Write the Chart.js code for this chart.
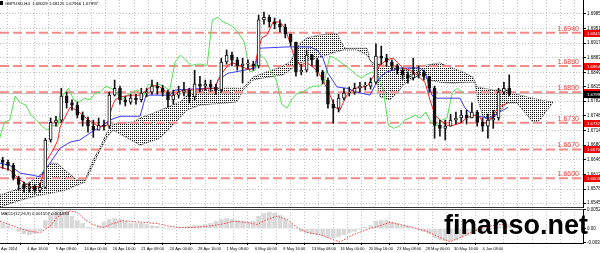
<!DOCTYPE html>
<html>
<head>
<meta charset="utf-8">
<script src="https://cdn.jsdelivr.net/npm/chart.js@4.4.1/dist/chart.umd.min.js"></script>
<style>
  html, body { margin: 0; padding: 0; background: #fff; }
  #wrap { position: relative; width: 600px; height: 253px; overflow: hidden; background: #fff; }
  #main { position: absolute; left: 0; top: 0; }
  #macd { position: absolute; left: 0; top: 200px; }
  #brand { position: absolute; left: 444px; top: 212px; font: bold 27px/27px "Liberation Sans", Arial, sans-serif; color: #000; white-space: nowrap; }
</style>
</head>
<body>
<div id="wrap">
  <canvas id="main" width="640" height="208"></canvas>
  <canvas id="macd" width="640" height="53"></canvas>
  <div id="brand">finanso.net</div>
</div>
<script>
// GBPUSD H4, one candle per 3 H4 bars (x axis counts H4 bars)
const closes = [1.6640,1.6633,1.6603,1.6589,1.6580,1.6585,1.6575,1.6582,1.6692,1.6733,
  1.6738,1.6794,1.6778,1.6773,1.6750,1.6738,1.6724,1.6715,1.6726,1.6724,
  1.6796,1.6812,1.6785,1.6780,1.6789,1.6785,1.6801,1.6803,1.6817,1.6812,
  1.6803,1.6785,1.6796,1.6803,1.6808,1.6792,1.6822,1.6817,1.6822,1.6815,
  1.6808,1.6873,1.6889,1.6878,1.6864,1.6868,1.6868,1.6864,1.6971,1.6977,
  1.6966,1.6961,1.6954,1.6938,1.6919,1.6850,1.6854,1.6889,1.6878,1.6850,
  1.6831,1.6775,1.6766,1.6789,1.6801,1.6803,1.6812,1.6817,1.6817,1.6826,
  1.6887,1.6882,1.6873,1.6864,1.6854,1.6843,1.6836,1.6845,1.6850,1.6840,
  1.6812,1.6726,1.6719,1.6724,1.6738,1.6743,1.6750,1.6743,1.6757,1.6733,
  1.6724,1.6738,1.6743,1.6803,1.6812,1.67997];
const highs = [1.6652,1.6645,1.6638,1.6608,1.6594,1.6592,1.6589,1.6592,1.6696,1.6743,
  1.6747,1.6812,1.6803,1.6785,1.6780,1.6757,1.6745,1.6738,1.6743,1.6738,
  1.6803,1.6831,1.6817,1.6794,1.6798,1.6798,1.6812,1.6812,1.6831,1.6826,
  1.6819,1.6808,1.6808,1.6817,1.6826,1.6812,1.6854,1.6840,1.6831,1.6831,
  1.6822,1.6882,1.6901,1.6896,1.6884,1.6882,1.6878,1.6875,1.6982,1.6989,
  1.6982,1.6975,1.6971,1.6961,1.6938,1.6919,1.6868,1.6901,1.6891,1.6882,
  1.6854,1.6836,1.6785,1.6798,1.6812,1.6815,1.6824,1.6826,1.6826,1.6836,
  1.6915,1.6910,1.6891,1.6878,1.6868,1.6859,1.6850,1.6882,1.6864,1.6854,
  1.6840,1.6817,1.6738,1.6738,1.6752,1.6757,1.6761,1.6761,1.6778,1.6761,
  1.6743,1.6752,1.6761,1.6812,1.6826,1.6843];
const lows = [1.6626,1.6622,1.6599,1.6575,1.6571,1.6571,1.6568,1.6571,1.6580,1.6687,
  1.6724,1.6733,1.6766,1.6761,1.6743,1.6724,1.6710,1.6698,1.6715,1.6715,
  1.6719,1.6794,1.6775,1.6771,1.6775,1.6775,1.6780,1.6792,1.6798,1.6798,
  1.6794,1.6768,1.6775,1.6789,1.6794,1.6778,1.6785,1.6803,1.6808,1.6805,
  1.6798,1.6803,1.6868,1.6864,1.6854,1.6824,1.6857,1.6854,1.6859,1.6961,
  1.6954,1.6950,1.6943,1.6929,1.6910,1.6840,1.6843,1.6850,1.6864,1.6840,
  1.6822,1.6766,1.6731,1.6757,1.6785,1.6794,1.6798,1.6803,1.6808,1.6810,
  1.6822,1.6868,1.6864,1.6854,1.6845,1.6833,1.6824,1.6831,1.6836,1.6831,
  1.6803,1.6696,1.6701,1.6692,1.6724,1.6729,1.6733,1.6729,1.6743,1.6724,
  1.6712,1.6696,1.6719,1.6738,1.6798,1.6794];
const firstOpen = 1.6645;
const barsPerCandle = 3;
const chikouShift = 26;

// ichimoku lines, [bar, price]
const tenkan = [[0,1.6629],[5.6,1.6622],[11.3,1.6599],[18.6,1.6580],[22.5,1.6585],[26.4,1.6645],[29.8,1.6668],[32.6,1.6692],[33.8,1.6722],[39.4,1.6768],[43.3,1.6761],[47.8,1.6745],[52.3,1.6731],[56.3,1.6722],[60.2,1.6726],[63.0,1.6768],[64.7,1.6785],[67.5,1.6792],[74.8,1.6796],[78.8,1.6796],[82.7,1.6808],[86.1,1.6819],[90.0,1.6815],[94.0,1.6803],[96.8,1.6792],[99.6,1.6801],[103.0,1.6808],[110.8,1.6808],[116.5,1.6812],[121.0,1.6812],[122.6,1.6831],[125.5,1.6850],[128.3,1.6866],[131.1,1.6871],[133.9,1.6866],[136.7,1.6861],[140.7,1.6854],[143.5,1.6866],[145.2,1.6901],[147.4,1.6929],[150.2,1.6936],[153.6,1.6966],[157.5,1.6966],[160.3,1.6952],[163.2,1.6917],[166.0,1.6878],[168.8,1.6866],[172.7,1.6871],[176.1,1.6861],[178.9,1.6850],[181.7,1.6831],[185.7,1.6796],[188.5,1.6768],[191.3,1.6761],[193.0,1.6778],[195.8,1.6801],[199.7,1.6812],[204.2,1.6815],[207.0,1.6819],[209.8,1.6838],[213.8,1.6866],[217.7,1.6878],[221.1,1.6882],[223.9,1.6871],[226.7,1.6859],[230.7,1.6854],[234.6,1.6843],[239.1,1.6826],[241.9,1.6785],[244.7,1.6750],[247.5,1.6738],[251.5,1.6726],[254.9,1.6726],[258.8,1.6731],[262.7,1.6743],[266.1,1.6750],[270.0,1.6745],[271.7,1.6731],[274.5,1.6733],[277.4,1.6750],[280.2,1.6766],[283.0,1.6773],[285.8,1.6778]];
const kijun = [[0,1.6638],[5.6,1.6633],[11.3,1.6615],[18.6,1.6610],[22.5,1.6606],[28.1,1.6638],[33.8,1.6673],[39.4,1.6687],[45.0,1.6692],[50.6,1.6708],[56.3,1.6722],[61.9,1.6738],[67.5,1.6747],[78.8,1.6747],[82.1,1.6796],[95.6,1.6796],[98.5,1.6808],[116.5,1.6812],[121.0,1.6812],[122.6,1.6831],[128.3,1.6847],[135.0,1.6852],[143.5,1.6859],[145.7,1.6905],[161.5,1.6908],[174.4,1.6908],[178.3,1.6901],[181.7,1.6882],[184.5,1.6847],[189.6,1.6815],[195.2,1.6812],[200.9,1.6803],[208.2,1.6796],[211.0,1.6819],[213.8,1.6838],[217.7,1.6850],[225.0,1.6859],[236.3,1.6859],[239.1,1.6850],[243.0,1.6796],[245.9,1.6789],[258.8,1.6789],[261.6,1.6766],[266.1,1.6750],[274.0,1.6743],[276.8,1.6743],[279.6,1.6754],[283.0,1.6761],[285.8,1.6768]];
const cloudTop = [[0,1.6564],[11.3,1.6580],[22.5,1.6610],[28.1,1.6638],[32.1,1.6638],[36.6,1.6622],[43.3,1.6599],[47.8,1.6599],[52.3,1.6645],[56.3,1.6675],[60.2,1.6710],[63.6,1.6729],[74.8,1.6733],[78.8,1.6743],[86.1,1.6754],[94.0,1.6768],[101.3,1.6780],[105.2,1.6796],[112.5,1.6808],[121.0,1.6812],[136.7,1.6812],[142.3,1.6838],[148.0,1.6847],[157.5,1.6861],[163.2,1.6873],[168.8,1.6917],[172.7,1.6929],[180.0,1.6936],[189.6,1.6940],[191.3,1.6924],[194.1,1.6905],[206.5,1.6905],[208.2,1.6878],[209.8,1.6871],[221.1,1.6861],[225.0,1.6854],[230.7,1.6859],[240.2,1.6866],[247.5,1.6871],[253.2,1.6861],[260.5,1.6850],[266.1,1.6838],[268.4,1.6815],[277.4,1.6808],[285.2,1.6808],[292.6,1.6796],[303.8,1.6785],[311.1,1.6780]];
const cloudBottom = [[0,1.6536],[11.3,1.6552],[22.5,1.6564],[28.1,1.6568],[36.6,1.6575],[43.3,1.6587],[47.8,1.6594],[52.3,1.6633],[56.3,1.6668],[60.2,1.6698],[63.6,1.6715],[78.8,1.6680],[90.0,1.6696],[105.2,1.6761],[112.5,1.6773],[133.3,1.6780],[136.7,1.6808],[142.3,1.6831],[148.0,1.6836],[159.2,1.6843],[168.8,1.6871],[174.4,1.6878],[180.0,1.6884],[187.3,1.6894],[193.0,1.6901],[200.9,1.6901],[206.5,1.6889],[209.8,1.6866],[213.8,1.6792],[219.4,1.6785],[223.9,1.6803],[226.7,1.6819],[230.7,1.6831],[236.3,1.6843],[241.9,1.6831],[247.5,1.6826],[254.9,1.6824],[262.7,1.6826],[267.2,1.6826],[268.9,1.6785],[271.7,1.6745],[275.7,1.6738],[279.6,1.6750],[285.2,1.6778],[290.9,1.6778],[294.2,1.6761],[299.9,1.6733],[303.8,1.6738],[307.7,1.6761],[311.1,1.6778]];

const levels = [1.6941, 1.6864, 1.6803, 1.6732, 1.6670, 1.6603];
const levelTexts = ['1.6940', '1.6860', '1.6800', '1.6730', '1.6670', '1.6600'];
const levelAxisTexts = ['1.69410', '1.68640', '1.68030', '1.67320', '1.66700', '1.66030'];
const bidPrice = 1.67997;
const priceTicks = [1.69850, 1.69510, 1.69170, 1.68830, 1.68490, 1.68150, 1.67820, 1.67480, 1.67140, 1.66800, 1.66460, 1.66120, 1.65780, 1.65450];

const macdHist = [0.0014,0.0008,0.0000,-0.0008,-0.0014,-0.0017,-0.0014,-0.0006,0.0022,0.0042,
  0.0048,0.0051,0.0045,0.0034,0.0022,0.0014,0.0003,0.0000,0.0006,0.0017,
  0.0025,0.0028,0.0025,0.0020,0.0014,0.0014,0.0014,0.0011,0.0008,0.0006,
  0.0003,0.0000,0.0000,0.0003,0.0003,0.0006,0.0008,0.0008,0.0011,0.0014,
  0.0020,0.0025,0.0028,0.0025,0.0022,0.0020,0.0017,0.0020,0.0034,0.0042,
  0.0045,0.0042,0.0037,0.0025,0.0014,0.0000,-0.0008,-0.0011,-0.0014,-0.0017,
  -0.0020,-0.0025,-0.0025,-0.0022,-0.0017,-0.0011,-0.0008,-0.0003,0.0003,0.0008,
  0.0020,0.0022,0.0022,0.0017,0.0014,0.0008,0.0006,0.0000,-0.0003,-0.0008,
  -0.0014,-0.0025,-0.0031,-0.0034,-0.0034,-0.0031,-0.0025,-0.0020,-0.0014,-0.0008,
  -0.0006,-0.0003,0.0000,0.0006,0.0008,0.0011];
const macdSignal = [[0,0.0020],[5.6,0.0011],[11.3,0.0000],[16.9,-0.0008],[22.5,-0.0011],[28.1,0.0006],[32.1,0.0031],[36.6,0.0045],[39.4,0.0048],[43.3,0.0045],[47.8,0.0025],[52.3,0.0011],[58.0,0.0003],[63.6,0.0014],[69.2,0.0022],[73.1,0.0020],[80.5,0.0017],[88.3,0.0014],[95.6,0.0006],[101.3,0.0003],[108.6,0.0003],[116.5,0.0006],[123.8,0.0011],[131.1,0.0020],[139.0,0.0017],[144.6,0.0011],[150.2,0.0025],[155.8,0.0034],[161.5,0.0025],[167.1,0.0003],[172.7,-0.0011],[180.0,-0.0017],[187.4,-0.0031],[191.3,-0.0037],[198.6,-0.0017],[206.5,-0.0003],[213.8,0.0008],[219.4,0.0017],[225.0,0.0011],[232.4,0.0003],[240.2,-0.0008],[247.6,-0.0025],[253.2,-0.0037],[258.8,-0.0025],[266.1,-0.0008],[274.0,0.0006],[281.3,0.0011],[285.2,0.0011]];
const macdTicks = [0.005213, 0, -0.00391];
const macdTickLabels = ['0.005213', '0.00', '-0.003910'];

const xLabels = ['Apr 2014', '4 Apr 16:00', '9 Apr 08:00', '14 Apr 00:00', '16 Apr 16:00', '21 Apr 08:00',
  '24 Apr 00:00', '28 Apr 16:00', '1 May 08:00', '6 May 00:00', '8 May 16:00', '13 May 08:00',
  '16 May 00:00', '20 May 16:00', '23 May 08:00', '28 May 00:00', '30 May 16:00', '4 Jun 08:00'];
const firstLabelBar = 0.6;
const gridStart = 7.4;
const gridStep = 8;
const xMax = 328;

const FONT = '"Liberation Sans", Arial, sans-serif';
const gridColor = '#c4c4c4';

// candle positions and opens
const candleX = closes.map((c, i) => 1.5 + barsPerCandle * i);
const opens = closes.map((c, i) => i === 0 ? firstOpen : closes[i - 1]);
const pts = arr => arr.map(p => ({x: p[0], y: p[1]}));

// vertical grid / time ticks
const xTickVals = [firstLabelBar];
for (let b = gridStart; b < xMax; b += gridStep) xTickVals.push(b);
function xTickLabel(v) {
  if (Math.abs(v - firstLabelBar) < 0.01) return xLabels[0];
  const idx = Math.round((v - gridStart) / gridStep);
  if (idx % 2 === 1) return xLabels[(idx + 1) / 2] || '';
  return '';
}

function dotPattern(ctx) {
  const c = document.createElement('canvas');
  c.width = 2; c.height = 2;
  const g = c.getContext('2d');
  g.fillStyle = '#111';
  g.fillRect(0, 0, 1, 1);
  return ctx.createPattern(c, 'repeat');
}

const mainCanvas = document.getElementById('main');
const cloudFill = dotPattern(mainCanvas.getContext('2d'));

const mainDecor = {
  id: 'mainDecor',
  afterDraw(chart) {
    const {ctx, chartArea, scales: {y}} = chart;
    ctx.save();
    // title line
    ctx.fillStyle = '#000';
    ctx.fillRect(0, 1, 3, 4);
    ctx.font = '4.3px ' + FONT;
    ctx.textBaseline = 'middle';
    ctx.textAlign = 'left';
    ctx.fillText('GBPUSD,H4  1.68029 1.68125 1.67966 1.67997', 5, 3.5);
    // level captions and axis tags
    levels.forEach((lv, i) => {
      const py = Math.round(y.getPixelForValue(lv));
      ctx.font = '7px ' + FONT;
      ctx.fillStyle = '#f04040';
      ctx.textAlign = 'right';
      ctx.textBaseline = 'alphabetic';
      ctx.fillText(levelTexts[i], 579, py - 2);
      ctx.fillStyle = '#f00000';
      ctx.fillRect(chartArea.right + 1, py - 3, 52, 7);
      ctx.fillStyle = '#fff';
      ctx.font = '4.3px ' + FONT;
      ctx.textAlign = 'left';
      ctx.textBaseline = 'middle';
      ctx.fillText(levelAxisTexts[i], chartArea.right + 4, py + 0.5);
    });
    const by = Math.round(y.getPixelForValue(bidPrice));
    ctx.fillStyle = '#000';
    ctx.fillRect(chartArea.right + 1, by - 3, 52, 7);
    ctx.fillStyle = '#fff';
    ctx.fillText(bidPrice.toFixed(5), chartArea.right + 4, by + 0.5);
    ctx.restore();
  }
};

const levelSets = levels.map(lv => ({
  type: 'line',
  data: [{x: 0, y: lv}, {x: xMax, y: lv}],
  borderColor: '#f58a8a',
  borderWidth: 2,
  borderDash: [9, 4],
  pointRadius: 0,
  order: 8
}));

new Chart(mainCanvas, {
  type: 'line',
  data: {
    datasets: [
      {
        data: pts(cloudTop),
        borderColor: '#444',
        borderWidth: 1,
        borderDash: [1, 1],
        backgroundColor: cloudFill,
        fill: '+1',
        pointRadius: 0,
        order: 10
      },
      {
        data: pts(cloudBottom),
        borderColor: '#444',
        borderWidth: 1,
        borderDash: [1, 1],
        fill: false,
        pointRadius: 0,
        order: 10
      },
      ...levelSets,
      {
        data: [{x: 0, y: bidPrice}, {x: xMax, y: bidPrice}],
        borderColor: '#c8c8c8',
        borderWidth: 1,
        pointRadius: 0,
        order: 9
      },
      {
        data: closes.map((c, i) => ({x: candleX[i] - chikouShift, y: c})),
        borderColor: '#52e052',
        borderWidth: 1,
        pointRadius: 0,
        order: 5
      },
      {
        data: pts(kijun),
        borderColor: '#3b3bff',
        borderWidth: 1,
        pointRadius: 0,
        order: 4
      },
      {
        data: pts(tenkan),
        borderColor: '#ff2020',
        borderWidth: 1,
        pointRadius: 0,
        order: 3
      },
      {
        type: 'bar',
        data: candleX.map((x, i) => ({x: x, y: [lows[i], highs[i]]})),
        backgroundColor: '#111',
        barThickness: 1,
        grouped: false,
        order: 2
      },
      {
        type: 'bar',
        data: candleX.map((x, i) => ({x: x, y: [opens[i], closes[i]]})),
        backgroundColor: closes.map((c, i) => c >= opens[i] ? '#fff' : '#111'),
        borderColor: '#111',
        borderWidth: 1,
        borderSkipped: false,
        barThickness: 3,
        grouped: false,
        minBarLength: 1,
        order: 1
      }
    ]
  },
  options: {
    responsive: false,
    animation: false,
    devicePixelRatio: 1,
    layout: {padding: 0},
    plugins: {legend: {display: false}, tooltip: {enabled: false}},
    scales: {
      x: {
        type: 'linear',
        min: 0,
        max: xMax,
        offset: false,
        afterBuildTicks: s => { s.ticks = xTickVals.map(v => ({value: v})); },
        afterFit: s => { s.height = 0; s.paddingLeft = 0; s.paddingRight = 0; },
        ticks: {display: false},
        grid: {
          color: c => (c.tick && c.tick.value < 1) ? 'rgba(0,0,0,0)' : gridColor,
          drawTicks: false
        },
        border: {display: true, color: '#333', width: 2, dash: [1, 2]}
      },
      y: {
        type: 'linear',
        position: 'right',
        min: 1.6534,
        max: 1.7017,
        afterBuildTicks: s => { s.ticks = priceTicks.map(v => ({value: v})); },
        afterFit: s => { s.width = 57; s.paddingTop = 0; s.paddingBottom = 0; },
        ticks: {
          color: '#000',
          font: {size: 4.5, family: FONT},
          padding: 1,
          callback: v => v.toFixed(5)
        },
        grid: {color: gridColor, tickColor: '#000', tickLength: 3},
        border: {display: true, color: '#000', width: 1, dash: [1, 2]}
      }
    }
  },
  plugins: [mainDecor]
});

const macdDecor = {
  id: 'macdDecor',
  afterDraw(chart) {
    const {ctx, chartArea} = chart;
    ctx.save();
    ctx.strokeStyle = '#555';
    ctx.lineWidth = 1;
    ctx.beginPath();
    ctx.moveTo(0, chartArea.top + 0.5);
    ctx.lineTo(chartArea.right, chartArea.top + 0.5);
    ctx.stroke();
    ctx.fillStyle = '#000';
    ctx.font = '4.3px ' + FONT;
    ctx.textBaseline = 'middle';
    ctx.fillText('MACD(12,26,9) 0.001557 0.001033', 1, chartArea.top + 4.5);
    ctx.restore();
  }
};

new Chart(document.getElementById('macd'), {
  type: 'line',
  data: {
    datasets: [
      {
        data: pts(macdSignal),
        borderColor: '#ff3c3c',
        borderWidth: 1,
        borderDash: [1.5, 1.5],
        pointRadius: 0,
        order: 1
      },
      {
        type: 'bar',
        data: candleX.map((x, i) => ({x: x, y: macdHist[i]})),
        backgroundColor: '#d9d9d9',
        barThickness: 4,
        grouped: false,
        order: 2
      }
    ]
  },
  options: {
    responsive: false,
    animation: false,
    devicePixelRatio: 1,
    layout: {padding: {top: 9}},
    plugins: {legend: {display: false}, tooltip: {enabled: false}},
    scales: {
      x: {
        type: 'linear',
        min: 0,
        max: xMax,
        offset: false,
        afterBuildTicks: s => { s.ticks = xTickVals.map(v => ({value: v})); },
        afterFit: s => { s.height = 10; s.paddingLeft = 0; s.paddingRight = 0; },
        ticks: {
          autoSkip: false,
          maxRotation: 0,
          align: 'start',
          padding: 1,
          color: '#000',
          font: {size: 4, family: FONT},
          callback: v => xTickLabel(v)
        },
        grid: {
          color: c => (c.tick && c.tick.value < 1) ? 'rgba(0,0,0,0)' : gridColor,
          tickColor: c => (c.tick && xTickLabel(c.tick.value) && c.tick.value > 1) ? '#000' : 'rgba(0,0,0,0)',
          tickLength: 2
        },
        border: {display: true, color: '#000', width: 1, dash: [1, 2]}
      },
      y: {
        type: 'linear',
        position: 'right',
        min: -0.0040,
        max: 0.0054,
        afterBuildTicks: s => { s.ticks = macdTicks.map(v => ({value: v})); },
        afterFit: s => { s.width = 57; s.paddingTop = 0; s.paddingBottom = 0; },
        ticks: {
          color: '#000',
          font: {size: 4.5, family: FONT},
          padding: 1,
          callback: (v, i) => macdTickLabels[i]
        },
        grid: {display: true, drawOnChartArea: false, tickColor: '#000', tickLength: 3},
        border: {display: true, color: '#000', width: 1}
      }
    }
  },
  plugins: [macdDecor]
});
</script>
</body>
</html>
